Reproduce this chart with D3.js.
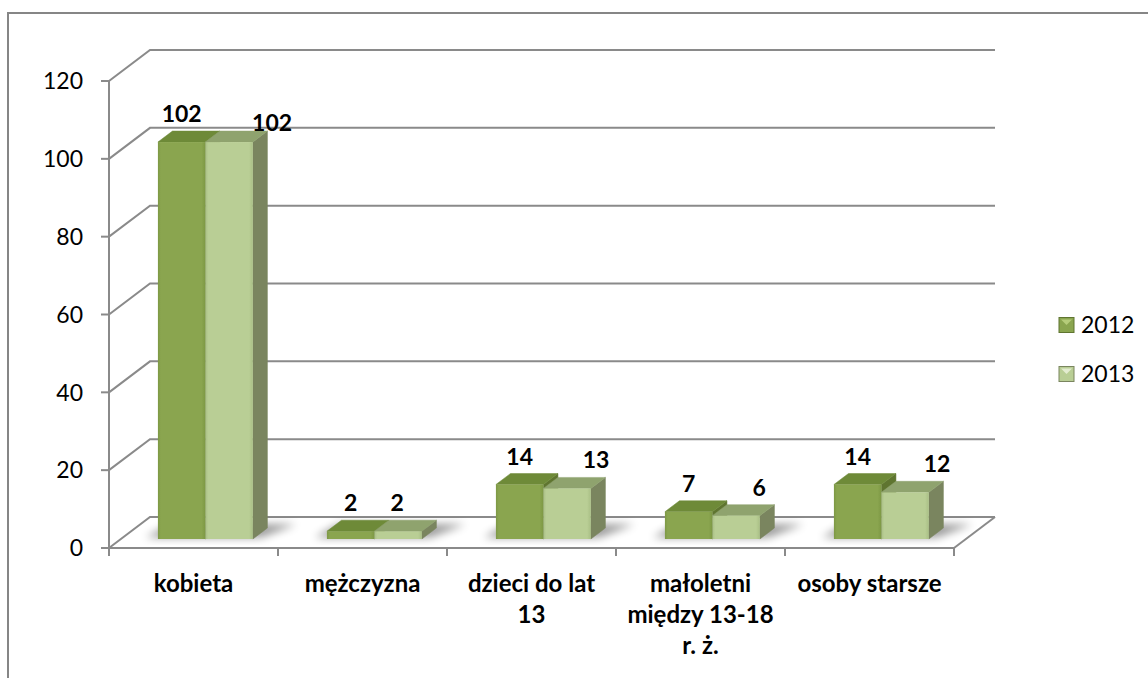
<!DOCTYPE html>
<html>
<head>
<meta charset="utf-8">
<script src="https://cdn.jsdelivr.net/npm/d3@7"></script>
<style>
  html, body { margin: 0; padding: 0; background: #fff; }
  svg { display: block; }
  text { font-family: Lato, "Noto Sans", sans-serif; fill: #000; }
</style>
</head>
<body>
<svg id="chart" width="1148" height="678"></svg>
<script>
// ---- data ----
const categories = ["kobieta", "mężczyzna", "dzieci do lat 13", "małoletni między 13-18 r. ż.", "osoby starsze"];
const categoryLines = [["kobieta"], ["mężczyzna"], ["dzieci do lat", "13"], ["małoletni", "między 13-18", "r. ż."], ["osoby starsze"]];
const series = ["2012", "2013"];
const values2012 = [102, 2, 14, 7, 14];
const values2013 = [102, 2, 13, 6, 12];
const yTicks = [0, 20, 40, 60, 80, 100, 120];
// label shifts of the 2013 data labels (as placed in the original)
const label2013Dx = [43, -1, 29, 23, 32];
const label2013Dy = [9, 0, 0, 0, 0];

// ---- layout ----
const svg = d3.select("#chart");
const W = 1148, H = 678;
const axisX = 109, baseY = 548, rightX = 954;
const depthX = 41, depthY = 31;          // full depth of the floor
const barFront = 0.29, barDepth = 0.355; // bar position within depth

const y = d3.scaleLinear().domain([0, 120]).range([baseY, 81]);
const x = d3.scaleBand().domain(categories).range([axisX, rightX]).paddingInner(0).paddingOuter(0);
const xs = d3.scaleBand().domain(series).range([0, x.bandwidth()]).paddingInner(0).paddingOuter(0.78);

const colors = {
  "2012": { front: "#8aa54f", frontEdge: "#7d9844", top: "#6e8a38", side: "#5f7530", legLight: "#b5cc7a" },
  "2013": { front: "#b9ce95", frontEdge: "#a9bf85", top: "#8fa36e", side: "#7a855f", legLight: "#e3ecd0" }
};

const defs = svg.append("defs");
const blur = defs.append("filter").attr("id", "shadowBlur").attr("x", "-50%").attr("y", "-50%").attr("width", "200%").attr("height", "200%");
blur.append("feGaussianBlur").attr("stdDeviation", 4);
series.forEach(s => {
  const g = defs.append("linearGradient").attr("id", "front" + s).attr("x1", 0).attr("x2", 1).attr("y1", 0).attr("y2", 0);
  g.append("stop").attr("offset", "0%").attr("stop-color", colors[s].frontEdge);
  g.append("stop").attr("offset", "6%").attr("stop-color", colors[s].front);
  g.append("stop").attr("offset", "92%").attr("stop-color", colors[s].front);
  g.append("stop").attr("offset", "100%").attr("stop-color", colors[s].frontEdge);
});

// outer border (chart area frame)
svg.append("path")
  .attr("d", `M${W + 5},13 H8 V${H + 5}`)
  .attr("fill", "none").attr("stroke", "#868686").attr("stroke-width", 2);

const gridColor = "#8a8a8a";
const backRight = rightX + depthX;

// back-wall gridlines with diagonal side segments
const grid = svg.append("g");
yTicks.forEach(t => {
  const yy = y(t);
  grid.append("path")
    .attr("d", `M${axisX},${yy} L${axisX + depthX},${yy - depthY} H${backRight}`)
    .attr("fill", "none").attr("stroke", gridColor).attr("stroke-width", 2);
});
// floor right edge
grid.append("path")
  .attr("d", `M${rightX},${baseY} L${backRight},${baseY - depthY}`)
  .attr("fill", "none").attr("stroke", gridColor).attr("stroke-width", 2);

// vertical axis
const axG = svg.append("g");
axG.append("line").attr("x1", axisX).attr("x2", axisX).attr("y1", y(120)).attr("y2", baseY + 8)
  .attr("stroke", gridColor).attr("stroke-width", 2);
yTicks.forEach(t => {
  axG.append("line").attr("x1", axisX - 8).attr("x2", axisX).attr("y1", y(t)).attr("y2", y(t))
    .attr("stroke", gridColor).attr("stroke-width", 2);
  axG.append("text").attr("x", 83).attr("y", y(t)).attr("dy", "0.36em")
    .attr("text-anchor", "end").attr("font-size", 23).text(t);
});
// horizontal axis (front floor edge) and category ticks
axG.append("line").attr("x1", axisX).attr("x2", rightX).attr("y1", baseY).attr("y2", baseY)
  .attr("stroke", gridColor).attr("stroke-width", 2);
const catBounds = categories.map(c => x(c)).concat([x(categories[categories.length - 1]) + x.bandwidth()]);
catBounds.forEach(b => {
  axG.append("line").attr("x1", b).attr("x2", b).attr("y1", baseY).attr("y2", baseY + 8)
    .attr("stroke", gridColor).attr("stroke-width", 2);
});

// category labels
categories.forEach((c, i) => {
  const t = svg.append("text").attr("x", x(c) + x.bandwidth() / 2).attr("y", 592)
    .attr("text-anchor", "middle").attr("font-size", 24).attr("font-weight", "bold");
  categoryLines[i].forEach((ln, j) => {
    t.append("tspan").attr("x", x(c) + x.bandwidth() / 2).attr("dy", j === 0 ? 0 : 31).text(ln);
  });
});

// projection helper
const proj = (px, v, d) => [px + depthX * d, y(v) - depthY * d];

// bars
const data = series.map((s, si) => ({ s, vals: si === 0 ? values2012 : values2013 }));
const barsG = svg.append("g");

// shadows first
categories.forEach((c, i) => {
  const x0 = x(c) + xs(series[0]);
  const x1 = x(c) + xs(series[1]) + xs.bandwidth();
  const d0 = barFront, d1 = barFront + barDepth;
  const p = [proj(x0 - 14, 0, d0 + 0.05), proj(x1 + 6, 0, d0 + 0.05), proj(x1 + 24, 0, d1 + 0.12), proj(x0 - 8, 0, d1 + 0.12)];
  barsG.append("polygon").attr("points", p.map(q => q.join(",")).join(" "))
    .attr("fill", "#000").attr("opacity", 0.4).attr("filter", "url(#shadowBlur)");
});

categories.forEach((c, i) => {
  data.forEach(({ s, vals }) => {
    const v = vals[i];
    const xl = x(c) + xs(s), w = xs.bandwidth();
    const d0 = barFront, d1 = barFront + barDepth;
    const fTL = proj(xl, v, d0), fTR = proj(xl + w, v, d0), fBR = proj(xl + w, 0, d0), fBL = proj(xl, 0, d0);
    const bTL = proj(xl, v, d1), bTR = proj(xl + w, v, d1), bBR = proj(xl + w, 0, d1);
    const g = barsG.append("g");
    g.append("polygon").attr("points", [fTR, bTR, bBR, fBR].map(q => q.join(",")).join(" "))
      .attr("fill", colors[s].side).attr("stroke", colors[s].side).attr("stroke-width", 0.5);
    g.append("polygon").attr("points", [fTL, fTR, bTR, bTL].map(q => q.join(",")).join(" "))
      .attr("fill", colors[s].top).attr("stroke", colors[s].top).attr("stroke-width", 0.5).attr("stroke-linejoin", "round");
    g.append("rect").attr("x", fTL[0]).attr("y", fTL[1]).attr("width", w).attr("height", fBL[1] - fTL[1])
      .attr("fill", `url(#front${s})`);
  });
});

// data labels
categories.forEach((c, i) => {
  data.forEach(({ s, vals }, si) => {
    const v = vals[i];
    const xl = x(c) + xs(s), w = xs.bandwidth();
    const topBack = proj(xl, v, barFront + barDepth)[1];
    const cx = proj(xl + w / 2, v, barFront)[0] + (si === 1 ? label2013Dx[i] : 0);
    const by = topBack - 9 + (si === 1 ? label2013Dy[i] : 0);
    svg.append("text").attr("x", cx).attr("y", by).attr("text-anchor", "middle")
      .attr("font-size", 23).attr("font-weight", "bold").text(v);
  });
});

// legend
const leg = svg.append("g");
series.forEach((s, i) => {
  const cy = 325 + i * 49;
  const lx = 1059, sz = 15, ly = cy - sz / 2;
  leg.append("rect").attr("x", lx).attr("y", ly).attr("width", sz).attr("height", sz)
    .attr("fill", colors[s].front).attr("stroke", colors[s].side).attr("stroke-width", 1);
  leg.append("polygon")
    .attr("points", [[lx + 2, ly + 2], [lx + sz - 2, ly + 2], [lx + sz / 2, ly + sz / 2]].map(q => q.join(",")).join(" "))
    .attr("fill", colors[s].legLight);
  leg.append("text").attr("x", 1081).attr("y", cy).attr("dy", "0.36em").attr("font-size", 23).text(s);
});
</script>
</body>
</html>
